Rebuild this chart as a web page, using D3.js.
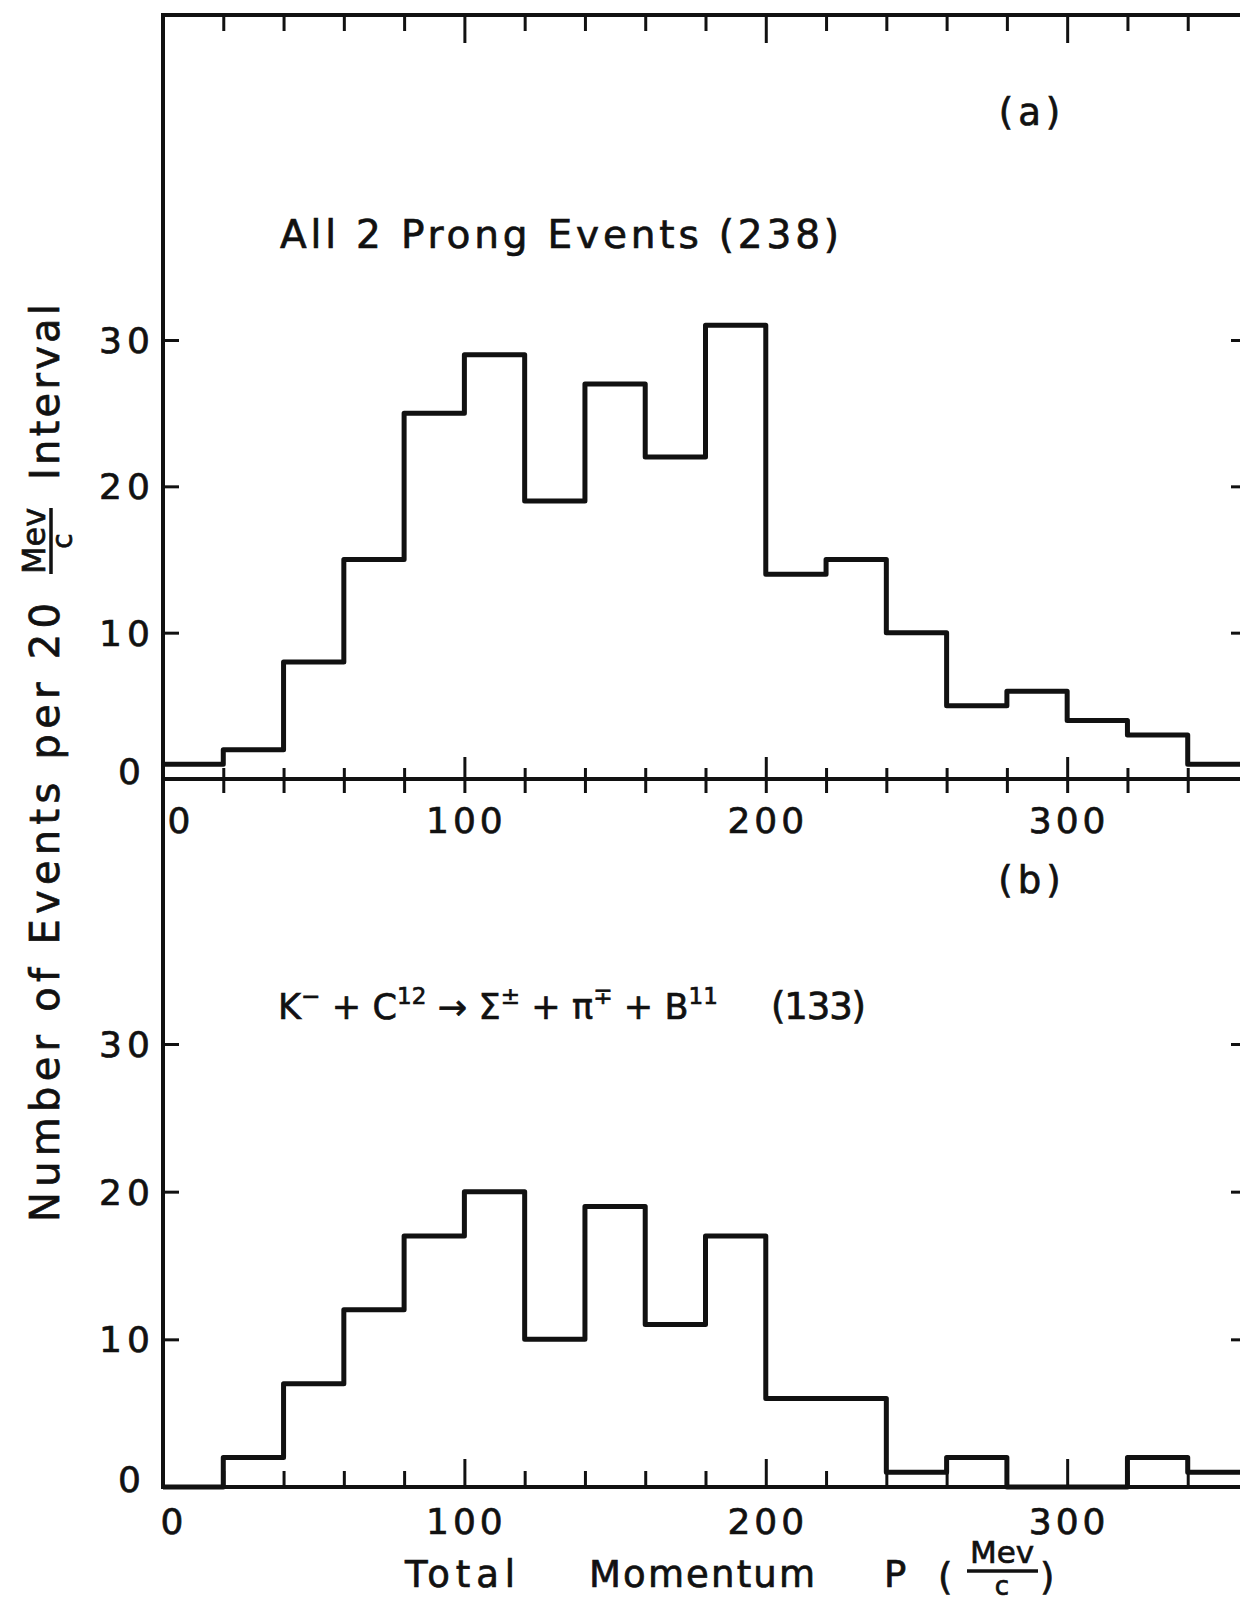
<!DOCTYPE html>
<html>
<head>
<meta charset="utf-8">
<script src="https://cdn.jsdelivr.net/npm/d3@7"></script>
<style>
  body { margin: 0; background: #fff; }
  svg text { font-family: "DejaVu Sans", sans-serif; fill: #111; stroke: #111; stroke-width: 0.7px; }
</style>
</head>
<body>
<div id="chart"></div>
<script>
// bin edges (Mev/c) and counts per 20 Mev/c interval
const binEdges = [0, 20, 40, 60, 80, 100, 120, 140, 160, 180, 200, 220, 240, 260, 280, 300, 320, 340, 360];
const countsAll = [1, 2, 8, 15, 25, 29, 19, 27, 22, 31, 14, 15, 10, 5, 6, 4, 3, 1];
const countsSigma = [0, 2, 7, 12, 17, 20, 10, 19, 11, 17, 6, 6, 1, 2, 0, 0, 2, 1];

const xMinorTicks = [20, 40, 60, 80, 120, 140, 160, 180, 220, 240, 260, 280, 320, 340];
const xMajorTicks = [100, 200, 300];
const xTickLabels = [0, 100, 200, 300];
const yTicks = [10, 20, 30];
const yTickLabels = [0, 10, 20, 30];

const W = 1240, H = 1602;
const ink = "#111";

const svg = d3.select("#chart").append("svg")
    .attr("width", W)
    .attr("height", H);

const x = d3.scaleLinear().domain([0, 360]).range([163, 1248]);
const yA = d3.scaleLinear().domain([0, 30]).range([779, 340]);
const yB = d3.scaleLinear().domain([0, 30]).range([1487, 1044]);

const topY = 15;

// frame lines
const frame = svg.append("g").attr("stroke", ink).attr("stroke-width", 4).attr("fill", "none");
frame.append("line").attr("x1", x(0)).attr("x2", x(360)).attr("y1", topY).attr("y2", topY);
frame.append("line").attr("x1", x(0)).attr("x2", x(0)).attr("y1", topY - 2).attr("y2", yB(0) + 2);
frame.append("line").attr("x1", x(0)).attr("x2", x(360)).attr("y1", yA(0)).attr("y2", yA(0));
frame.append("line").attr("x1", x(0) - 2).attr("x2", x(360)).attr("y1", yB(0)).attr("y2", yB(0));
frame.append("line").attr("x1", x(360)).attr("x2", x(360)).attr("y1", topY).attr("y2", yB(0));

function tickRow(axisGen, scale, vals, size, transform) {
    svg.append("g")
        .attr("transform", transform)
        .call(axisGen(scale).tickValues(vals).tickSize(size).tickFormat(""))
        .call(g => g.select(".domain").remove())
        .selectAll("line")
        .attr("stroke", ink)
        .attr("stroke-width", 3);
}

// top border ticks (pointing down)
tickRow(d3.axisBottom, x, xMinorTicks, 16, `translate(0,${topY})`);
tickRow(d3.axisBottom, x, xMajorTicks, 28, `translate(0,${topY})`);
// middle axis ticks (crossing)
tickRow(d3.axisBottom, x, xMinorTicks.concat(xMajorTicks), 14, `translate(0,${yA(0)})`);
tickRow(d3.axisTop, x, xMinorTicks, 11, `translate(0,${yA(0)})`);
tickRow(d3.axisTop, x, xMajorTicks, 22, `translate(0,${yA(0)})`);
// bottom axis ticks (pointing up)
tickRow(d3.axisTop, x, xMinorTicks, 16, `translate(0,${yB(0)})`);
tickRow(d3.axisTop, x, xMajorTicks, 28, `translate(0,${yB(0)})`);
// y ticks, left and right, pointing inward
[yA, yB].forEach(y => {
    tickRow(d3.axisRight, y, yTicks, 16, `translate(${x(0)},0)`);
    tickRow(d3.axisLeft, y, yTicks, 17, `translate(${x(360)},0)`);
});

// histograms
function stepPoints(counts) {
    const pts = [];
    counts.forEach((v, i) => {
        pts.push([binEdges[i], v]);
        pts.push([binEdges[i + 1], v]);
    });
    return pts;
}

[[countsAll, yA], [countsSigma, yB]].forEach(([counts, y]) => {
    const line = d3.line().x(d => x(d[0])).y(d => y(d[1]));
    svg.append("path")
        .attr("d", line(stepPoints(counts)))
        .attr("fill", "none")
        .attr("stroke", ink)
        .attr("stroke-width", 5)
        .attr("stroke-linejoin", "round");
});

// tick labels
const numFont = 36;
function xLabels(baseY, zeroShift) {
    svg.append("g").selectAll("text")
        .data(xTickLabels)
        .join("text")
        .attr("x", d => x(d) + (d === 0 ? zeroShift : 0) + 2)
        .attr("y", baseY)
        .attr("text-anchor", "middle")
        .attr("font-size", numFont)
        .attr("letter-spacing", 4)
        .text(d => d);
}
xLabels(833, 16);
xLabels(1534, 9);

function yLabels(y) {
    svg.append("g").selectAll("text")
        .data(yTickLabels)
        .join("text")
        .attr("x", d => d === 0 ? 132 : 127)
        .attr("y", d => y(d) - (d === 0 ? 8 : 0))
        .attr("dy", "0.36em")
        .attr("text-anchor", "middle")
        .attr("font-size", numFont)
        .attr("letter-spacing", 5)
        .text(d => d);
}
yLabels(yA);
yLabels(yB);

// panel labels
svg.append("text").attr("x", 1032).attr("y", 125).attr("text-anchor", "middle")
    .attr("font-size", 37).attr("letter-spacing", 5).text("(a)");
svg.append("text").attr("x", 1032).attr("y", 893).attr("text-anchor", "middle")
    .attr("font-size", 37).attr("letter-spacing", 5).text("(b)");

svg.append("text").attr("x", 280).attr("y", 248)
    .attr("font-size", 39)
    .attr("textLength", 559).attr("lengthAdjust", "spacing")
    .attr("xml:space", "preserve")
    .text("All 2 Prong Events (238)");

// reaction label
const rx = svg.append("text").attr("x", 278).attr("y", 1019).attr("font-size", 35)
    .attr("textLength", 440).attr("lengthAdjust", "spacing");
const sup = (s) => rx.append("tspan").attr("dy", -15).attr("font-size", 23).text(s);
const base = (s) => rx.append("tspan").attr("dy", 15).attr("font-size", 35).text(s);
rx.append("tspan").text("K");
sup("\u2212");
base(" + C");
sup("12");
base(" \u2192 \u03A3");
sup("\u00B1");
base(" + \u03C0");
sup("\u2213");
base(" + B");
sup("11");
svg.append("text").attr("x", 771).attr("y", 1019).attr("font-size", 37)
    .attr("textLength", 95).attr("lengthAdjust", "spacing").text("(133)");

// x axis title
const xt = (tx, ty, size, s, len) => {
    const t = svg.append("text").attr("x", tx).attr("y", ty).attr("font-size", size).text(s);
    if (len) t.attr("textLength", len).attr("lengthAdjust", "spacing");
    return t;
};
xt(405, 1587, 37, "Total", 110);
xt(589, 1587, 37, "Momentum", 226);
xt(884, 1587, 37, "P");
xt(938, 1590, 37, "(");
svg.append("text").attr("x", 1002).attr("y", 1563).attr("font-size", 31)
    .attr("text-anchor", "middle").text("Mev");
svg.append("line").attr("x1", 967).attr("x2", 1038).attr("y1", 1571).attr("y2", 1571)
    .attr("stroke", ink).attr("stroke-width", 3.5);
svg.append("text").attr("x", 1002).attr("y", 1595).attr("font-size", 26)
    .attr("text-anchor", "middle").text("c");
xt(1040, 1590, 37, ")");

// y axis title (rotated, reads bottom to top)
const yt = svg.append("g").attr("transform", "translate(59,0) rotate(-90)");
yt.append("text").attr("x", -1222).attr("y", 0).attr("font-size", 40)
    .attr("textLength", 619).attr("lengthAdjust", "spacing")
    .attr("xml:space", "preserve").text("Number of Events per 20");
yt.append("text").attr("x", -541).attr("y", -14).attr("font-size", 32)
    .attr("text-anchor", "middle").text("Mev");
yt.append("line").attr("x1", -574).attr("x2", -508).attr("y1", -8).attr("y2", -8)
    .attr("stroke", ink).attr("stroke-width", 3.5);
yt.append("text").attr("x", -541).attr("y", 13).attr("font-size", 28)
    .attr("text-anchor", "middle").text("c");
yt.append("text").attr("x", -480).attr("y", 0).attr("font-size", 40)
    .attr("textLength", 176).attr("lengthAdjust", "spacing").text("Interval");
</script>
</body>
</html>
